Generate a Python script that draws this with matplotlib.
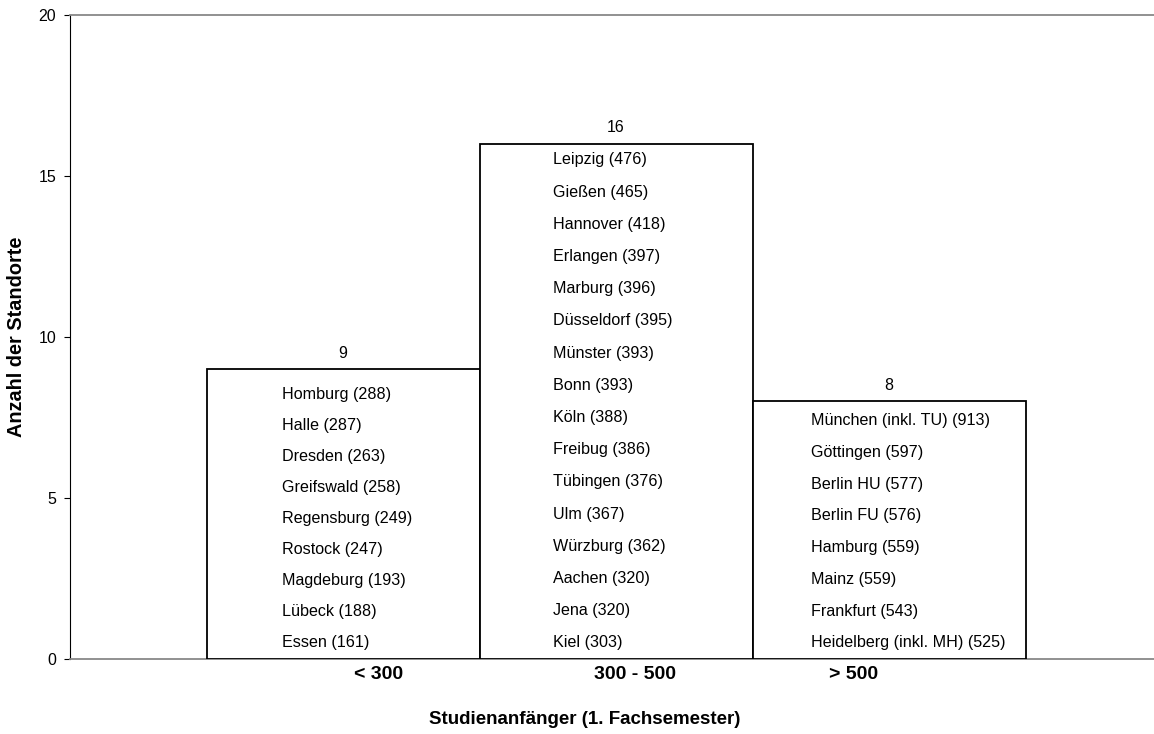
import matplotlib.pyplot as plt
import numpy as np

plt.rcParams['font.family'] = ['Liberation Sans', 'DejaVu Sans']

# Daten
kategorien = ["< 300", "300 - 500", "> 500"]
anzahl = [9, 16, 8]
standorte_klein = ["Homburg (288)", "Halle (287)", "Dresden (263)", "Greifswald (258)",
                   "Regensburg (249)", "Rostock (247)", "Magdeburg (193)",
                   "Lübeck (188)", "Essen (161)"]
standorte_mittel = ["Leipzig (476)", "Gießen (465)", "Hannover (418)", "Erlangen (397)",
                    "Marburg (396)", "Düsseldorf (395)", "Münster (393)", "Bonn (393)",
                    "Köln (388)", "Freibug (386)", "Tübingen (376)", "Ulm (367)",
                    "Würzburg (362)", "Aachen (320)", "Jena (320)", "Kiel (303)"]
standorte_gross = ["München (inkl. TU) (913)", "Göttingen (597)", "Berlin HU (577)",
                   "Berlin FU (576)", "Hamburg (559)", "Mainz (559)",
                   "Frankfurt (543)", "Heidelberg (inkl. MH) (525)"]
standorte = [standorte_klein, standorte_mittel, standorte_gross]

fig = plt.figure(figsize=(11.54, 7.34), dpi=100)
ax = fig.add_axes([70/1154, 1 - 659/734, 1 - 70/1154, (659 - 15)/734])

x = np.arange(len(kategorien))
ax.bar(x, anzahl, width=1.0, color="white", edgecolor="black", linewidth=1.3, zorder=3)

# Werte über den Balken
for xi, n in zip(x, anzahl):
    ax.text(xi, n + 0.5, str(n), ha="center", va="center", fontsize=11.5)

# Standorte in den Balken
text_offset = [-0.225, -0.232, -0.287]
oben = [8.2, 15.5, 7.4]
for xi, n, namen, dx, top in zip(x, anzahl, standorte, text_offset, oben):
    ys = np.linspace(top, 0.5, len(namen))
    for name, y in zip(namen, ys):
        ax.text(xi + dx, y, name, ha="left", va="center", fontsize=11.6)

ax.set_xlim(-1.0, 2.97)
ax.set_ylim(0, 20)
ax.set_yticks([0, 5, 10, 15, 20])
ax.tick_params(axis="y", direction="out", length=4, labelsize=11.5, pad=6)

# Kategorie-Beschriftungen (etwas versetzt wie im Original)
label_dx = [0.13, 1.07, 1.87]
ax.set_xticks(label_dx)
ax.set_xticklabels(kategorien, fontweight="bold", fontsize=14)
ax.tick_params(axis="x", length=0, pad=5)

ax.spines["right"].set_visible(False)
ax.spines["top"].set_color("#888888")
ax.spines["bottom"].set_color("#888888")
ax.spines["top"].set_linewidth(1.3)
ax.spines["bottom"].set_linewidth(1.3)
ax.spines["left"].set_color("black")

fig.text(17/1154, 1 - 337/734, "Anzahl der Standorte", rotation=90, ha="center",
         va="center", fontweight="bold", fontsize=14.3)
fig.text(585/1154, 1 - 720/734, "Studienanfänger (1. Fachsemester)", ha="center",
         va="center", fontweight="bold", fontsize=13.5)

fig.savefig("out.png", dpi=100)
